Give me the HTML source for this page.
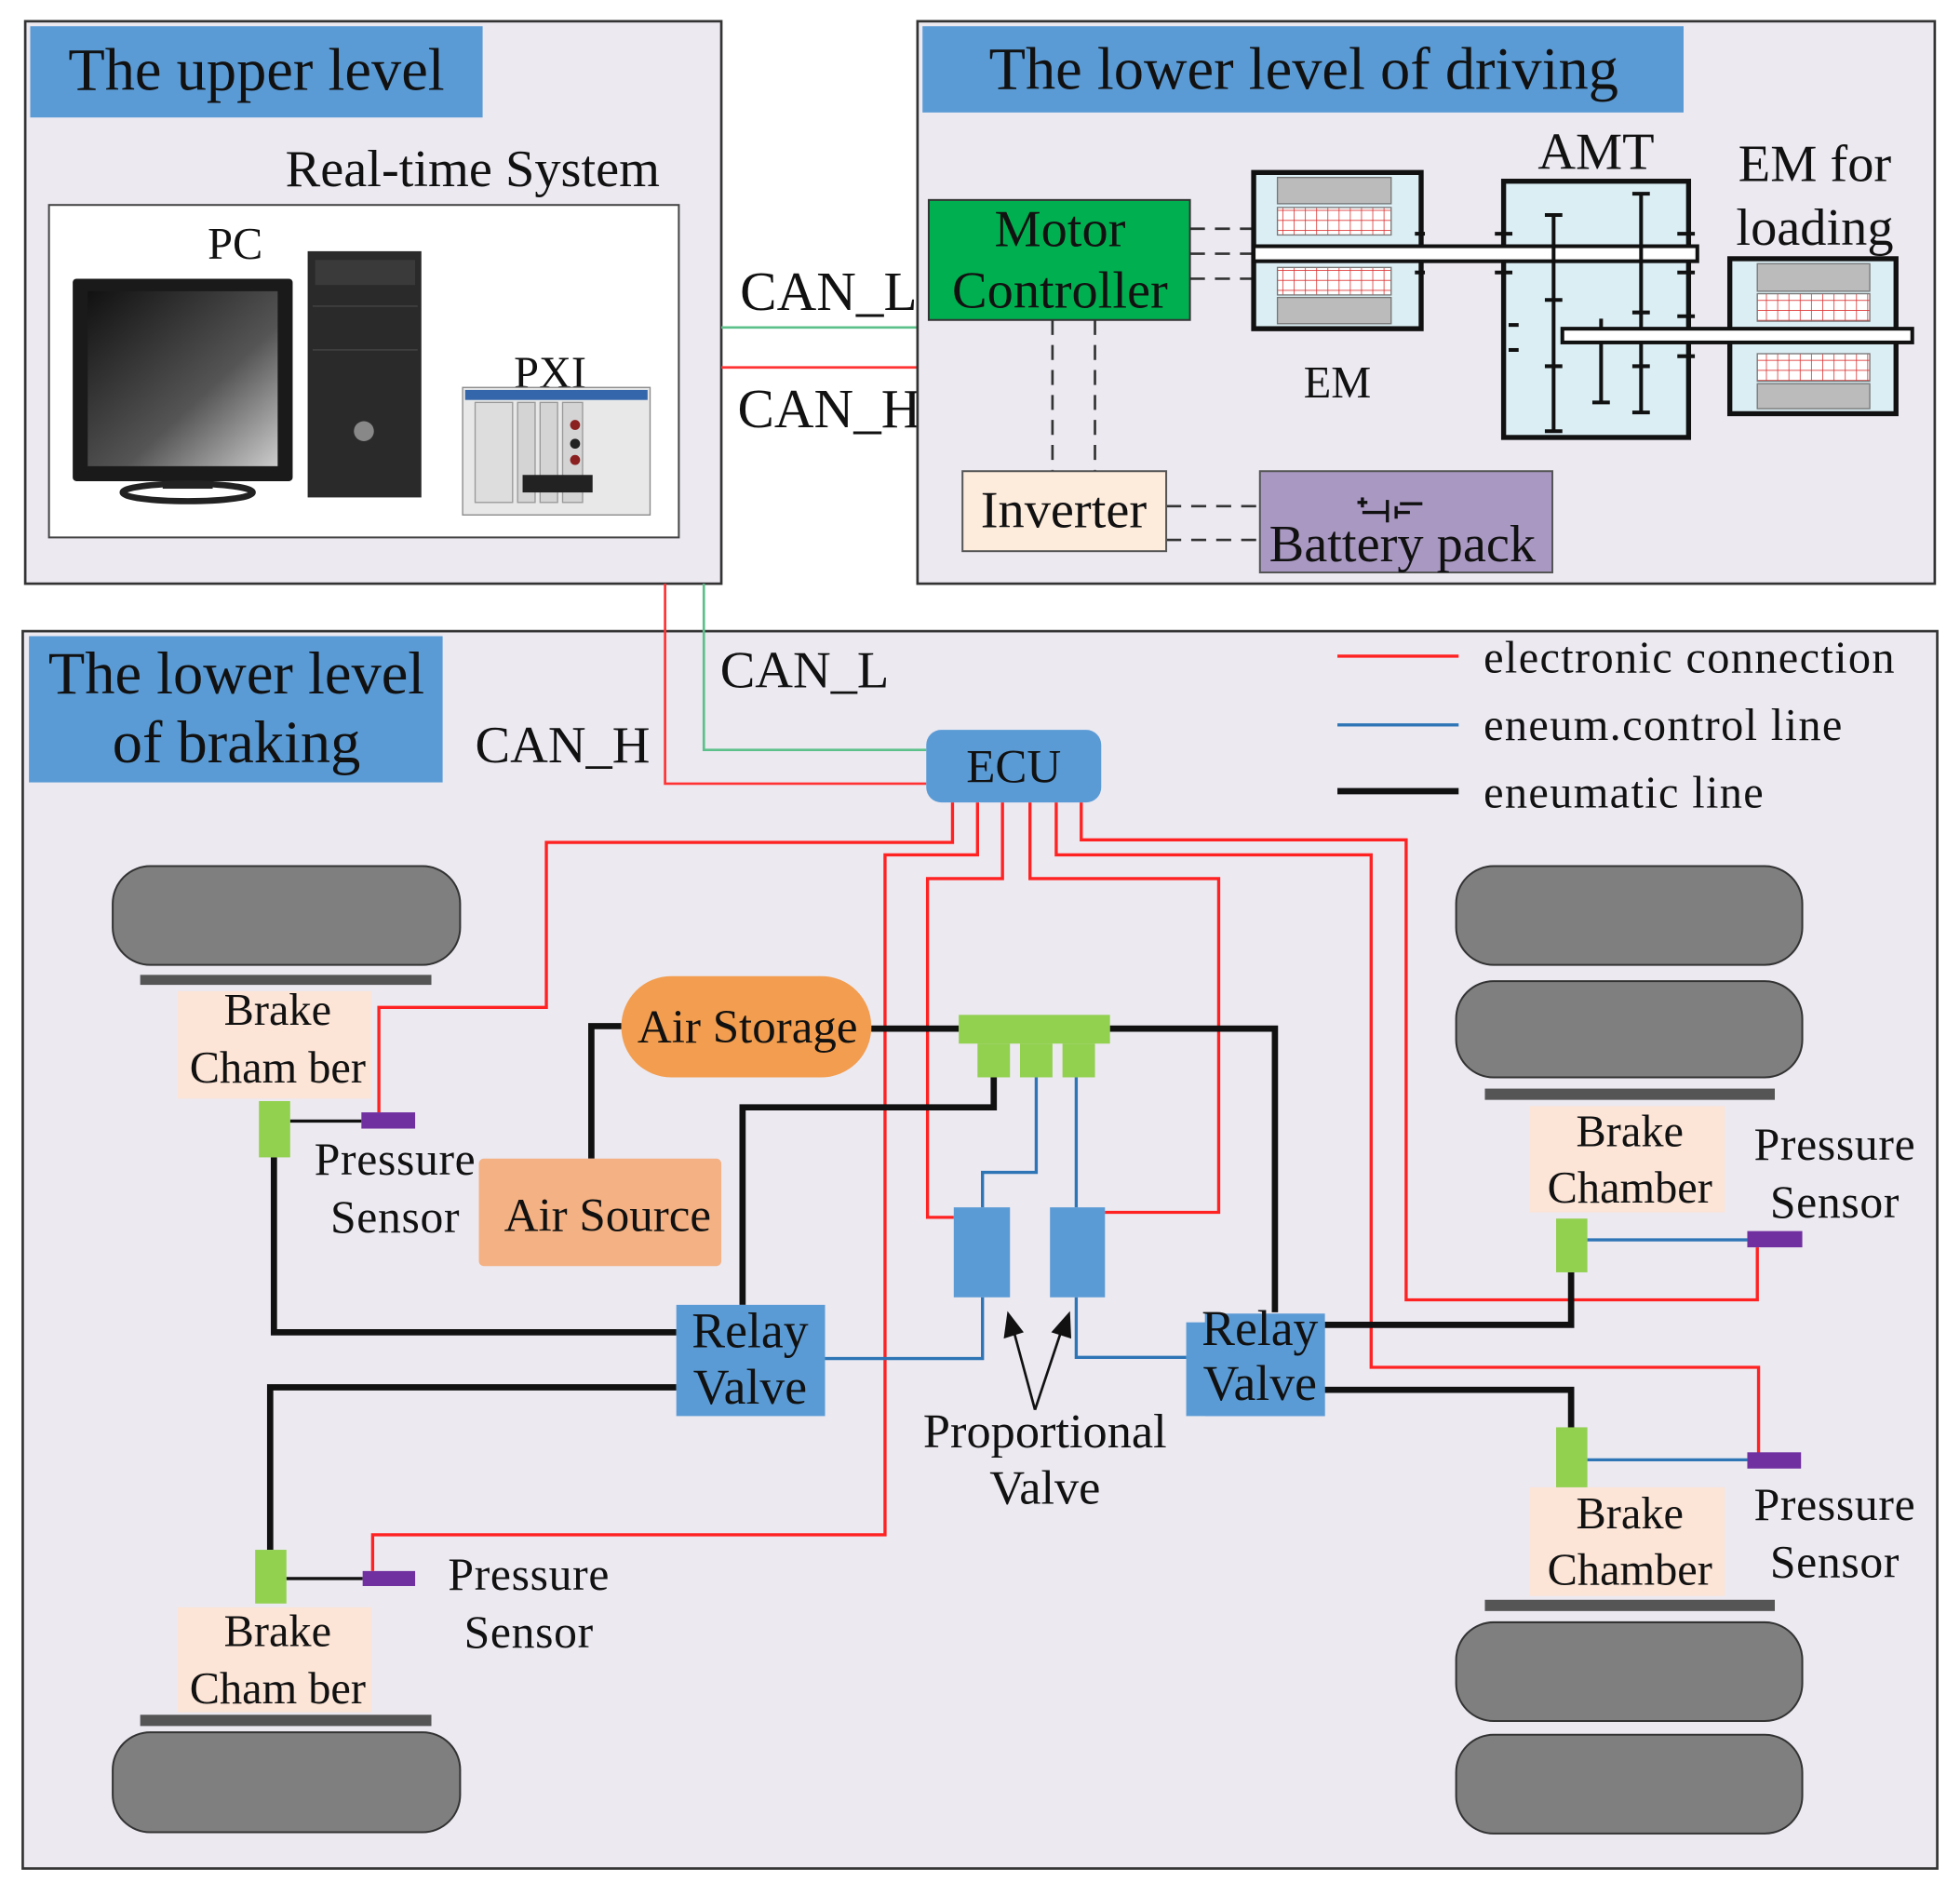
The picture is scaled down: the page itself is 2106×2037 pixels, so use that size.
<!DOCTYPE html>
<html><head><meta charset="utf-8"><style>
html,body{margin:0;padding:0;background:#fff;}
svg{display:block;}
text{font-family:"Liberation Serif",serif;fill:#111;}
</style></head><body>
<svg width="2106" height="2037" viewBox="0 0 1568 1517" xmlns="http://www.w3.org/2000/svg">
<rect width="1568" height="1517" fill="#fff"/>

<!-- ============ Upper level ============ -->
<rect x="20" y="17" width="557" height="450" fill="#ece9f1" stroke="#333" stroke-width="2"/>
<rect x="24" y="21" width="362" height="73" fill="#5b9bd5"/>
<text x="205" y="72" font-size="48" text-anchor="middle">The upper level</text>
<text x="378" y="149" font-size="42" text-anchor="middle">Real-time System</text>
<rect x="39" y="164" width="504" height="266" fill="#fff" stroke="#444" stroke-width="1.5"/>
<text x="188" y="207" font-size="36" text-anchor="middle">PC</text>
<text x="440" y="310" font-size="36" text-anchor="middle">PXI</text>
<defs>
<linearGradient id="scr" x1="0" y1="0" x2="1" y2="1"><stop offset="0" stop-color="#111"/><stop offset="0.6" stop-color="#555"/><stop offset="1" stop-color="#ccc"/></linearGradient>
</defs>
<rect x="58" y="223" width="176" height="162" rx="3" fill="#1a1a1a"/>
<rect x="70" y="233" width="152" height="140" fill="url(#scr)"/>
<rect x="130" y="385" width="40" height="6" fill="#222"/>
<ellipse cx="150" cy="394" rx="52" ry="7" fill="none" stroke="#222" stroke-width="5"/>
<rect x="246" y="201" width="91" height="197" fill="#2a2a2a"/>
<rect x="252" y="208" width="80" height="20" fill="#3a3a3a"/>
<line x1="250" y1="245" x2="334" y2="245" stroke="#444"/>
<line x1="250" y1="280" x2="334" y2="280" stroke="#444"/>
<circle cx="291" cy="345" r="8" fill="#888"/>
<rect x="370" y="310" width="150" height="102" fill="#e8e8e8" stroke="#888"/>
<rect x="380" y="322" width="30" height="80" fill="#ddd" stroke="#999"/>
<rect x="414" y="322" width="14" height="80" fill="#d4d4d4" stroke="#999"/>
<rect x="432" y="322" width="14" height="80" fill="#d4d4d4" stroke="#999"/>
<rect x="450" y="322" width="16" height="80" fill="#d4d4d4" stroke="#999"/>
<rect x="418" y="380" width="56" height="14" fill="#222"/>
<circle cx="460" cy="340" r="4" fill="#8b2020"/><circle cx="460" cy="355" r="4" fill="#222"/><circle cx="460" cy="368" r="4" fill="#8b2020"/>
<rect x="372" y="312" width="146" height="8" fill="#36a"/>

<line x1="577" y1="262" x2="735" y2="262" stroke="#5cc08a" stroke-width="2"/>
<line x1="577" y1="294" x2="735" y2="294" stroke="#f33" stroke-width="2"/>
<text x="592" y="248" font-size="44">CAN_L</text>
<text x="590" y="342" font-size="44">CAN_H</text>

<!-- ============ Lower level driving ============ -->
<rect x="734" y="17" width="814" height="450" fill="#ece9f1" stroke="#333" stroke-width="2"/>
<rect x="738" y="21" width="609" height="69" fill="#5b9bd5"/>
<text x="1043" y="71" font-size="48" text-anchor="middle">The lower level of driving</text>
<rect x="743" y="160" width="209" height="96" fill="#00b050" stroke="#333" stroke-width="1.5"/>
<text x="848" y="197" font-size="42" text-anchor="middle">Motor</text>
<text x="848" y="246" font-size="42" text-anchor="middle">Controller</text>
<g stroke="#333" stroke-width="2" stroke-dasharray="12,8">
<line x1="952" y1="183" x2="1003" y2="183"/>
<line x1="952" y1="203" x2="1003" y2="203"/>
<line x1="952" y1="223" x2="1003" y2="223"/>
<line x1="842" y1="256" x2="842" y2="377"/>
<line x1="876" y1="256" x2="876" y2="377"/>
<line x1="933" y1="405" x2="1008" y2="405"/>
<line x1="933" y1="432" x2="1008" y2="432"/>
</g>
<defs>
<pattern id="grid" width="9" height="8" patternUnits="userSpaceOnUse"><rect width="9" height="8" fill="#fff"/><path d="M0 0H9M0 0V8" stroke="#d33" stroke-width="1.2"/></pattern>
</defs>
<rect x="1003" y="138" width="134" height="125" fill="#dbeef4" stroke="#111" stroke-width="4"/>
<rect x="1022" y="142" width="91" height="21" fill="#bbb" stroke="#777"/>
<rect x="1022" y="166" width="91" height="22" fill="url(#grid)" stroke="#777"/>
<rect x="1022" y="214" width="91" height="22" fill="url(#grid)" stroke="#777"/>
<rect x="1022" y="238" width="91" height="21" fill="#bbb" stroke="#777"/>
<text x="1070" y="318" font-size="36" text-anchor="middle">EM</text>
<rect x="1203" y="145" width="148" height="205" fill="#dbeef4" stroke="#111" stroke-width="4"/>
<text x="1277" y="135" font-size="42" text-anchor="middle">AMT</text>
<rect x="1003" y="197" width="355" height="12" fill="#fff" stroke="#111" stroke-width="3"/>
<g stroke="#111" stroke-width="3">
<line x1="1243" y1="172" x2="1243" y2="345"/><line x1="1236" y1="172" x2="1250" y2="172"/><line x1="1236" y1="345" x2="1250" y2="345"/>
<line x1="1313" y1="155" x2="1313" y2="330"/><line x1="1306" y1="155" x2="1320" y2="155"/><line x1="1306" y1="330" x2="1320" y2="330"/>
<line x1="1281" y1="255" x2="1281" y2="322"/><line x1="1274" y1="322" x2="1288" y2="322"/>
<line x1="1236" y1="240" x2="1250" y2="240"/><line x1="1306" y1="250" x2="1320" y2="250"/>
<line x1="1236" y1="293" x2="1250" y2="293"/><line x1="1306" y1="293" x2="1320" y2="293"/>
<line x1="1207" y1="260" x2="1215" y2="260"/><line x1="1207" y1="280" x2="1215" y2="280"/>
<line x1="1196" y1="187" x2="1210" y2="187"/><line x1="1196" y1="218" x2="1210" y2="218"/>
<line x1="1342" y1="187" x2="1356" y2="187"/><line x1="1342" y1="218" x2="1356" y2="218"/>
<line x1="1342" y1="253" x2="1356" y2="253"/><line x1="1342" y1="285" x2="1356" y2="285"/>
<line x1="1132" y1="187" x2="1140" y2="187"/><line x1="1132" y1="218" x2="1140" y2="218"/>
</g>
<rect x="1384" y="207" width="133" height="124" fill="#dbeef4" stroke="#111" stroke-width="4"/>
<rect x="1406" y="211" width="90" height="22" fill="#bbb" stroke="#777"/>
<rect x="1406" y="235" width="90" height="22" fill="url(#grid)" stroke="#777"/>
<rect x="1406" y="283" width="90" height="22" fill="url(#grid)" stroke="#777"/>
<rect x="1406" y="307" width="90" height="20" fill="#bbb" stroke="#777"/>
<rect x="1250" y="263" width="280" height="11" fill="#fff" stroke="#111" stroke-width="3"/>
<text x="1452" y="145" font-size="42" text-anchor="middle">EM for</text>
<text x="1452" y="196" font-size="42" text-anchor="middle">loading</text>
<rect x="770" y="377" width="163" height="64" fill="#fdebdc" stroke="#555" stroke-width="1.5"/>
<text x="851" y="422" font-size="42" text-anchor="middle">Inverter</text>
<rect x="1008" y="377" width="234" height="81" fill="#a998c2" stroke="#555" stroke-width="1.5"/>
<g stroke="#111" stroke-width="2.5">
<line x1="1086" y1="402" x2="1094" y2="402"/><line x1="1090" y1="398" x2="1090" y2="406"/>
<line x1="1090" y1="410" x2="1110" y2="410"/><line x1="1110" y1="400" x2="1110" y2="418"/>
<line x1="1117" y1="405" x2="1117" y2="415"/><line x1="1117" y1="410" x2="1128" y2="410"/>
<line x1="1120" y1="403" x2="1138" y2="403"/>
</g>
<text x="1122" y="449" font-size="42" text-anchor="middle">Battery pack</text>

<!-- ============ Lower level braking ============ -->
<rect x="18" y="505" width="1532" height="990" fill="#ece9f1" stroke="#333" stroke-width="2"/>
<rect x="23" y="509" width="331" height="117" fill="#5b9bd5"/>
<text x="189" y="555" font-size="48" text-anchor="middle">The lower level</text>
<text x="189" y="610" font-size="48" text-anchor="middle">of braking</text>
<text x="380" y="610" font-size="42">CAN_H</text>
<text x="576" y="550" font-size="42">CAN_L</text>
<polyline points="532,467 532,627 741,627" fill="none" stroke="#f33" stroke-width="2"/>
<polyline points="563,467 563,600 741,600" fill="none" stroke="#5cc08a" stroke-width="2"/>

<line x1="1070" y1="525" x2="1167" y2="525" stroke="#f22" stroke-width="2.5"/>
<line x1="1070" y1="580" x2="1167" y2="580" stroke="#2e75b6" stroke-width="2.5"/>
<line x1="1070" y1="633" x2="1167" y2="633" stroke="#111" stroke-width="5"/>
<g font-size="36" letter-spacing="1">
<text x="1187" y="538">electronic connection</text>
<text x="1187" y="592">eneum.control line</text>
<text x="1187" y="646">eneumatic line</text>
</g>

<g fill="none" stroke="#f22" stroke-width="2.5">
<polyline points="762,642 762,674 437,674 437,806 303,806 303,890"/>
<polyline points="782,642 782,684 708,684 708,1228 298,1228 298,1257"/>
<polyline points="802,642 802,703 742,703 742,974 763,974"/>
<polyline points="824,642 824,703 975,703 975,970 884,970"/>
<polyline points="845,642 845,684 1097,684 1097,1094 1407,1094 1407,1165"/>
<polyline points="865,642 865,672 1125,672 1125,1040 1406,1040 1406,998"/>
</g>

<rect x="741" y="584" width="140" height="58" rx="12" fill="#5b9bd5"/>
<text x="811" y="626" font-size="38" text-anchor="middle">ECU</text>

<g fill="none" stroke="#111" stroke-width="5">
<polyline points="697,823 767,823"/>
<polyline points="888,823 1020,823 1020,1050"/>
<polyline points="473,927 473,821 497,821"/>
<polyline points="795,862 795,886 594,886 594,1044"/>
<polyline points="541,1066 219,1066 219,926"/>
<polyline points="541,1110 216,1110 216,1240"/>
<polyline points="1060,1060 1257,1060 1257,1018"/>
<polyline points="1060,1112 1257,1112 1257,1142"/>
</g>
<g stroke="#111" stroke-width="2.5">
<line x1="232" y1="897" x2="289" y2="897"/>
<line x1="229" y1="1263" x2="290" y2="1263"/>
</g>
<g fill="none" stroke="#2e75b6" stroke-width="2.5">
<polyline points="829,862 829,938 786,938 786,966"/>
<polyline points="861,862 861,966"/>
<polyline points="786,1038 786,1087 660,1087"/>
<polyline points="861,1038 861,1086 949,1086"/>
<line x1="1270" y1="992" x2="1398" y2="992"/>
<line x1="1270" y1="1168" x2="1398" y2="1168"/>
</g>

<g fill="#7f7f7f" stroke="#333" stroke-width="1.5">
<rect x="90" y="693" width="278" height="79" rx="30"/>
<rect x="1165" y="693" width="277" height="79" rx="30"/>
<rect x="1165" y="785" width="277" height="77" rx="30"/>
<rect x="1165" y="1298" width="277" height="79" rx="30"/>
<rect x="1165" y="1388" width="277" height="79" rx="30"/>
<rect x="90" y="1386" width="278" height="80" rx="30"/>
</g>
<g fill="#555">
<rect x="112" y="780" width="233" height="8"/>
<rect x="1188" y="871" width="232" height="9"/>
<rect x="1188" y="1280" width="232" height="9"/>
<rect x="112" y="1372" width="233" height="9"/>
</g>

<g fill="#fce4d6">
<rect x="142" y="793" width="155" height="86"/>
<rect x="1224" y="885" width="156" height="85"/>
<rect x="1224" y="1190" width="156" height="87"/>
<rect x="142" y="1286" width="155" height="84"/>
</g>
<g font-size="36" text-anchor="middle">
<text x="222" y="820">Brake</text><text x="222" y="866">Cham ber</text>
<text x="1304" y="917">Brake</text><text x="1304" y="962">Chamber</text>
<text x="1304" y="1223">Brake</text><text x="1304" y="1268">Chamber</text>
<text x="222" y="1317">Brake</text><text x="222" y="1363">Cham ber</text>
</g>
<g fill="#92d050">
<rect x="207" y="881" width="25" height="45"/>
<rect x="1245" y="975" width="25" height="43"/>
<rect x="1245" y="1142" width="25" height="48"/>
<rect x="204" y="1240" width="25" height="43"/>
</g>
<g fill="#7030a0">
<rect x="289" y="890" width="43" height="13"/>
<rect x="1398" y="985" width="44" height="13"/>
<rect x="1398" y="1162" width="43" height="13"/>
<rect x="290" y="1257" width="42" height="12"/>
</g>
<g font-size="37" text-anchor="middle" letter-spacing="0.5">
<text x="316" y="940">Pressure</text><text x="316" y="986">Sensor</text>
<text x="1468" y="928">Pressure</text><text x="1468" y="974">Sensor</text>
<text x="1468" y="1216">Pressure</text><text x="1468" y="1262">Sensor</text>
<text x="423" y="1272">Pressure</text><text x="423" y="1318">Sensor</text>
</g>

<rect x="497" y="781" width="200" height="81" rx="40" fill="#f29d4f"/>
<text x="598" y="834" font-size="38" text-anchor="middle">Air Storage</text>
<rect x="383" y="927" width="194" height="86" rx="4" fill="#f4b183"/>
<text x="486" y="985" font-size="38" text-anchor="middle">Air Source</text>

<g fill="#92d050">
<rect x="767" y="812" width="121" height="23"/>
<rect x="782" y="835" width="26" height="27"/>
<rect x="816" y="835" width="26" height="27"/>
<rect x="850" y="835" width="26" height="27"/>
</g>
<g fill="#5b9bd5">
<rect x="763" y="966" width="45" height="72"/>
<rect x="840" y="966" width="44" height="72"/>
<rect x="541" y="1044" width="119" height="89"/>
<rect x="949" y="1058" width="111" height="75"/>
<rect x="964" y="1051" width="96" height="82"/>
</g>
<g font-size="40" text-anchor="middle">
<text x="600" y="1078">Relay</text><text x="600" y="1123">Valve</text>
<text x="1008" y="1076">Relay</text><text x="1008" y="1120">Valve</text>
</g>
<g stroke="#111" stroke-width="2">
<line x1="828" y1="1128" x2="811" y2="1065"/>
<line x1="828" y1="1128" x2="849" y2="1065"/>
</g>
<polygon points="806,1049 803,1071 819,1066" fill="#111"/>
<polygon points="856,1049 841,1066 857,1071" fill="#111"/>
<text x="836" y="1158" font-size="39" text-anchor="middle">Proportional</text>
<text x="836" y="1203" font-size="39" text-anchor="middle">Valve</text>
</svg>
</body></html>
